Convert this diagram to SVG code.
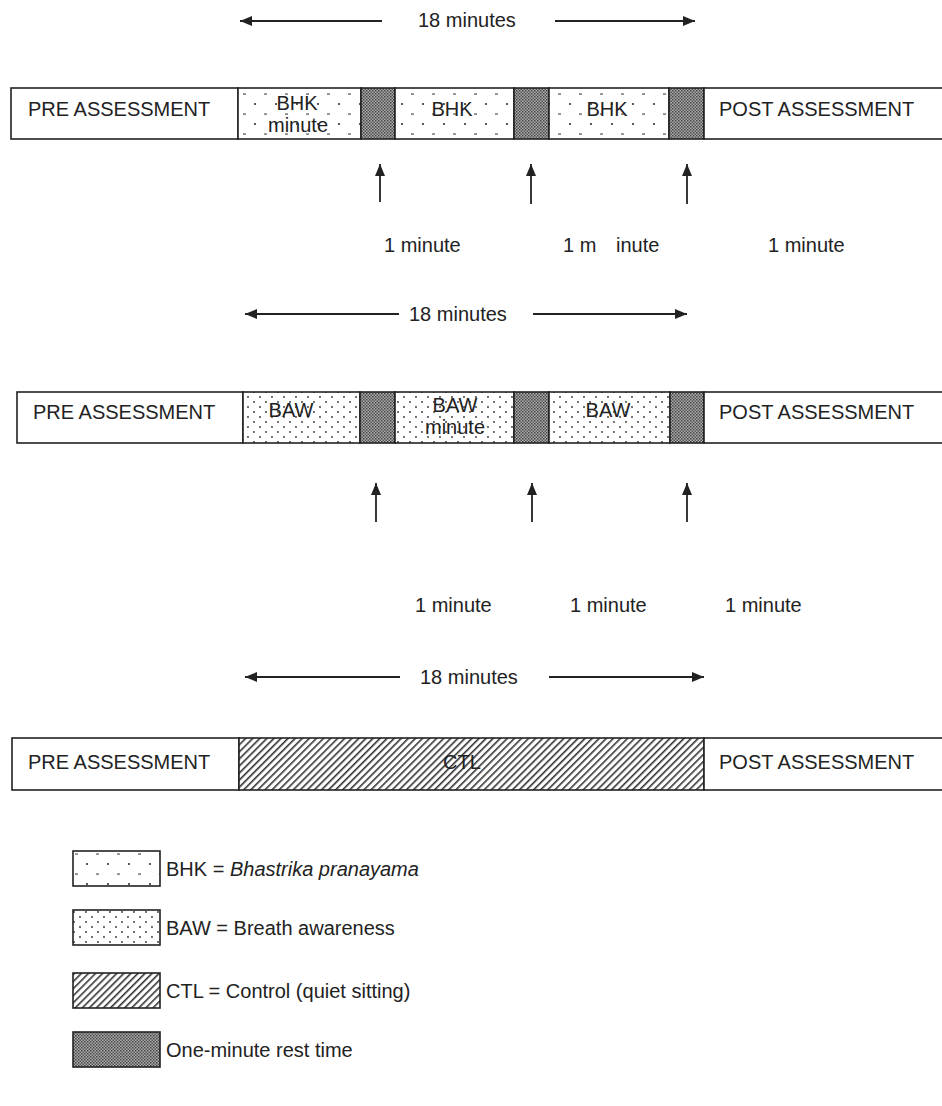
<svg xmlns="http://www.w3.org/2000/svg" width="942" height="1106" viewBox="0 0 942 1106">
<style>
.t{font-family:"Liberation Sans",Arial,sans-serif;font-size:20px;fill:#222}
.tm{font-family:"Liberation Sans",Arial,sans-serif;font-size:20px;fill:#222;text-anchor:middle}
.box{stroke:#222;stroke-width:1.6}
.w{fill:#fff}
.bhk{fill:url(#pBHK)}
.baw{fill:url(#pBAW)}
.rest{fill:url(#pREST)}
.ctl{fill:url(#pCTL)}
.ln{stroke:#222;stroke-width:1.8;fill:none}
</style>
<defs>
<pattern id="pBHK" width="21" height="20" patternUnits="userSpaceOnUse">
<rect width="21" height="20" fill="#fff"/>
<circle cx="3" cy="4" r="1.1" fill="#333"/>
<rect x="12" y="13.5" width="3" height="1.1" fill="#444"/>
</pattern>
<pattern id="pBAW" width="12" height="10" patternUnits="userSpaceOnUse">
<rect width="12" height="10" fill="#fff"/>
<circle cx="2" cy="2" r="0.9" fill="#333"/>
<circle cx="8" cy="7" r="0.9" fill="#333"/>
</pattern>
<pattern id="pREST" width="3" height="3" patternUnits="userSpaceOnUse">
<rect width="3" height="3" fill="#acacac"/>
<rect width="1.5" height="1.5" fill="#444"/>
<rect x="1.5" y="1.5" width="1.5" height="1.5" fill="#555"/>
</pattern>
<pattern id="pCTL" width="5" height="5" patternUnits="userSpaceOnUse" patternTransform="rotate(45)">
<rect width="5" height="5" fill="#fff"/>
<rect width="1.6" height="5" fill="#333"/>
</pattern>
<marker id="ah" markerWidth="12" markerHeight="10" refX="12" refY="5" orient="auto" markerUnits="userSpaceOnUse">
<path d="M0,0 L12,5 L0,10 z" fill="#222"/>
</marker>
</defs>

<!-- Row 1 -->
<g id="r1-pre"><rect class="box w" x="11" y="88" width="227" height="51"/><text class="t" x="28" y="116">PRE ASSESSMENT</text></g>
<g id="r1-bhk1"><rect class="box bhk" x="238" y="88" width="123" height="51"/><text class="tm" x="297" y="110">BHK</text><text class="tm" x="298" y="132">minute</text></g>
<g id="r1-rest1"><rect class="box rest" x="361" y="88" width="34" height="51"/></g>
<g id="r1-bhk2"><rect class="box bhk" x="395" y="88" width="119" height="51"/><text class="tm" x="452" y="116">BHK</text></g>
<g id="r1-rest2"><rect class="box rest" x="514" y="88" width="35" height="51"/></g>
<g id="r1-bhk3"><rect class="box bhk" x="549" y="88" width="120" height="51"/><text class="tm" x="607" y="116">BHK</text></g>
<g id="r1-rest3"><rect class="box rest" x="669" y="88" width="35" height="51"/></g>
<g id="r1-post"><rect class="box w" x="704" y="88" width="240" height="51"/><text class="t" x="719" y="116">POST ASSESSMENT</text></g>
<g id="r1-labels">
<text class="t" x="418" y="27">18 minutes</text>
<text class="t" x="384" y="252">1 minute</text>
<text class="t" x="563" y="252">1 m<tspan x="616">inute</tspan></text>
<text class="t" x="768" y="252">1 minute</text>
</g>

<!-- Row 2 -->
<g id="r2-pre"><rect class="box w" x="17" y="392" width="226" height="51"/><text class="t" x="33" y="419">PRE ASSESSMENT</text></g>
<g id="r2-baw1"><rect class="box baw" x="243" y="392" width="117" height="51"/><text class="tm" x="291" y="417">BAW</text></g>
<g id="r2-rest1"><rect class="box rest" x="360" y="392" width="35" height="51"/></g>
<g id="r2-baw2"><rect class="box baw" x="395" y="392" width="119" height="51"/><text class="tm" x="455" y="412">BAW</text><text class="tm" x="455" y="434">minute</text></g>
<g id="r2-rest2"><rect class="box rest" x="514" y="392" width="35" height="51"/></g>
<g id="r2-baw3"><rect class="box baw" x="549" y="392" width="121" height="51"/><text class="tm" x="608" y="417">BAW</text></g>
<g id="r2-rest3"><rect class="box rest" x="670" y="392" width="34" height="51"/></g>
<g id="r2-post"><rect class="box w" x="704" y="392" width="240" height="51"/><text class="t" x="719" y="419">POST ASSESSMENT</text></g>
<g id="r2-labels">
<text class="t" x="409" y="321">18 minutes</text>
<text class="t" x="415" y="612">1 minute</text>
<text class="t" x="570" y="612">1 minute</text>
<text class="t" x="725" y="612">1 minute</text>
</g>

<!-- Row 3 -->
<g id="r3-pre"><rect class="box w" x="12" y="738" width="227" height="52"/><text class="t" x="28" y="769">PRE ASSESSMENT</text></g>
<g id="r3-ctl"><rect class="box ctl" x="239" y="738" width="465" height="52"/><text class="tm" x="462" y="769">CTL</text></g>
<g id="r3-post"><rect class="box w" x="704" y="738" width="240" height="52"/><text class="t" x="719" y="769">POST ASSESSMENT</text></g>
<g id="r3-labels"><text class="t" x="420" y="684">18 minutes</text></g>

<!-- Legend -->
<g id="leg-bhk"><rect class="box bhk" x="73" y="851" width="87" height="35"/><text class="t" x="166" y="876">BHK = <tspan font-style="italic">Bhastrika pranayama</tspan></text></g>
<g id="leg-baw"><rect class="box baw" x="73" y="910" width="87" height="35"/><text class="t" x="166" y="935">BAW = Breath awareness</text></g>
<g id="leg-ctl"><rect class="box ctl" x="73" y="973" width="87" height="35"/><text class="t" x="166" y="998">CTL = Control (quiet sitting)</text></g>
<g id="leg-rest"><rect class="box rest" x="73" y="1032" width="87" height="35"/><text class="t" x="166" y="1057">One-minute rest time</text></g>

<!-- Connectors -->
<g id="connectors">
<line class="ln" x1="382" y1="21" x2="240" y2="21" marker-end="url(#ah)"/>
<line class="ln" x1="555" y1="21" x2="695" y2="21" marker-end="url(#ah)"/>
<line class="ln" x1="380" y1="202" x2="380" y2="164" marker-end="url(#ah)"/>
<line class="ln" x1="531" y1="204" x2="531" y2="164" marker-end="url(#ah)"/>
<line class="ln" x1="687" y1="204" x2="687" y2="164" marker-end="url(#ah)"/>
<line class="ln" x1="399" y1="314" x2="245" y2="314" marker-end="url(#ah)"/>
<line class="ln" x1="533" y1="314" x2="687" y2="314" marker-end="url(#ah)"/>
<line class="ln" x1="376" y1="522" x2="376" y2="483" marker-end="url(#ah)"/>
<line class="ln" x1="532" y1="522" x2="532" y2="483" marker-end="url(#ah)"/>
<line class="ln" x1="687" y1="522" x2="687" y2="483" marker-end="url(#ah)"/>
<line class="ln" x1="400" y1="677" x2="245" y2="677" marker-end="url(#ah)"/>
<line class="ln" x1="549" y1="677" x2="704" y2="677" marker-end="url(#ah)"/>
</g>
</svg>
